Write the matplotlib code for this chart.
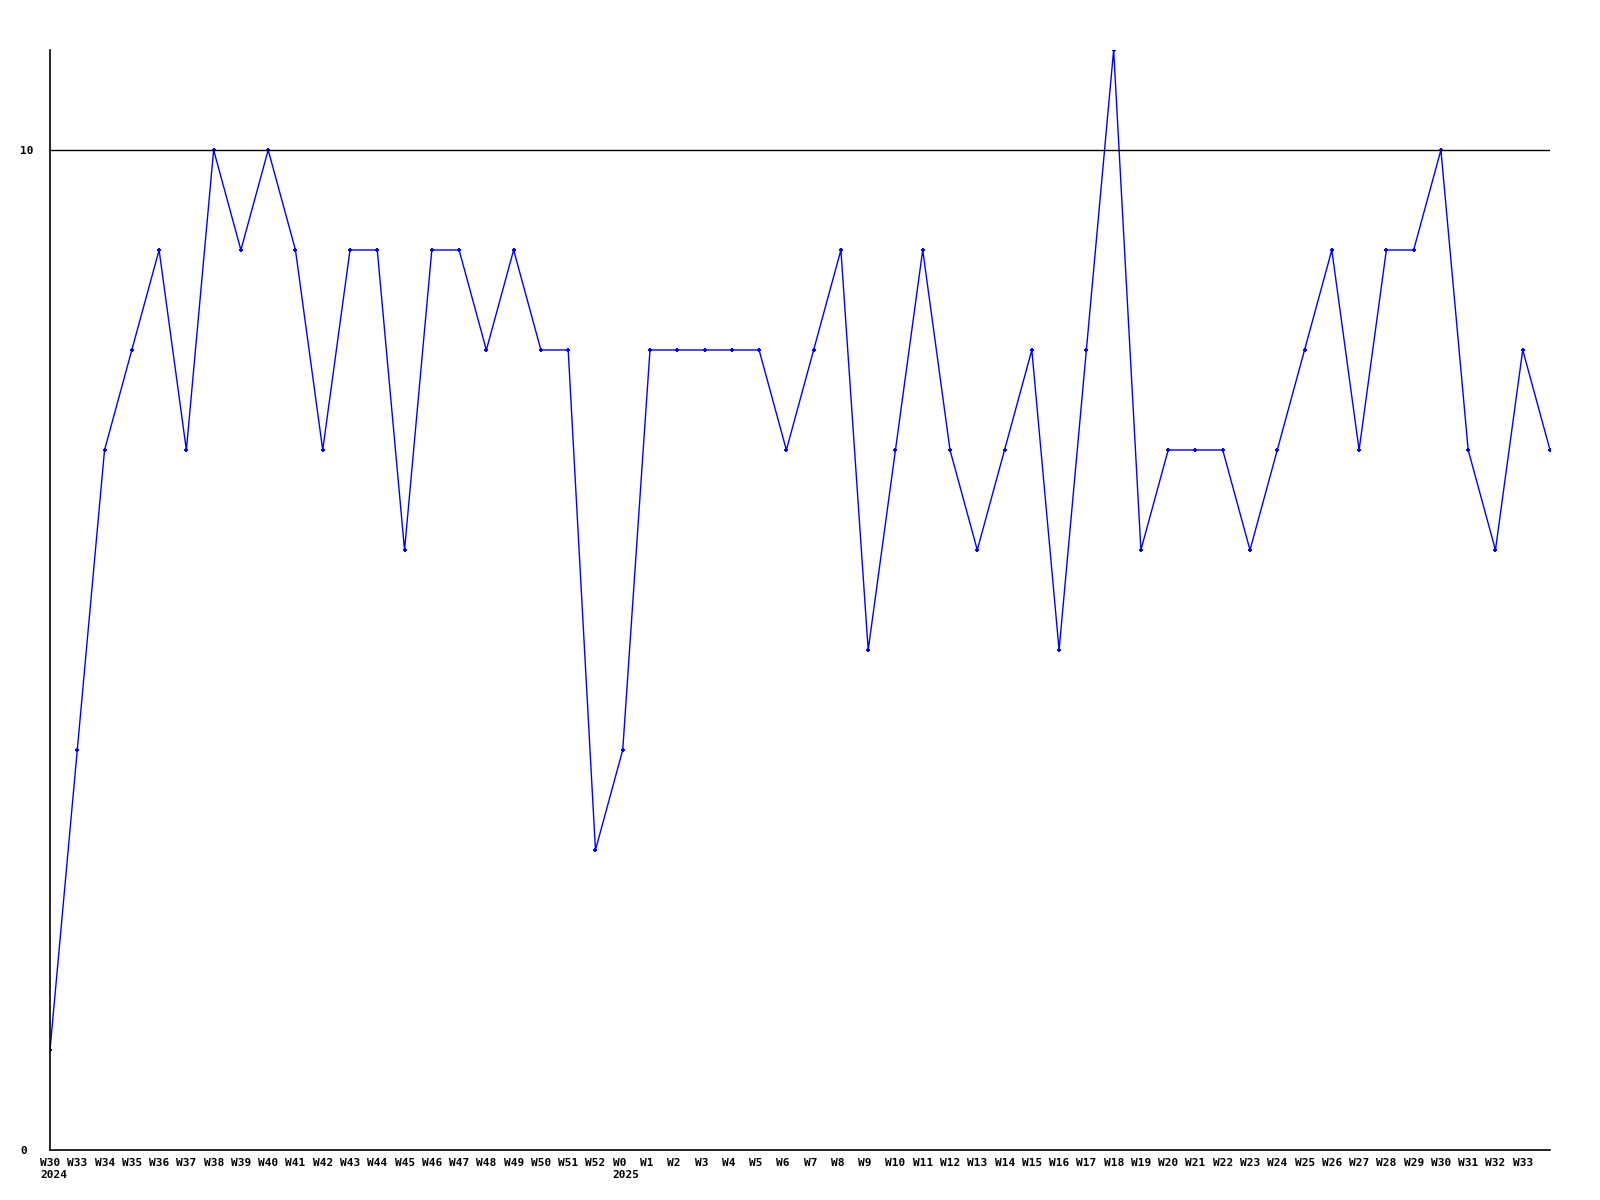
import matplotlib.pyplot as plt
import matplotlib.transforms as mtransforms

# weekly counts, W30 2024 .. W33 2025 plus one trailing (unlabelled) week
week_labels = (['W30\n2024'] + ['W%d' % w for w in range(33, 53)]
               + ['W0\n2025'] + ['W%d' % w for w in range(1, 34)])
values = [1, 4, 7, 8, 9, 7, 10, 9, 10, 9, 7, 9, 9, 6, 9, 9, 8, 9, 8, 8,
          3, 4, 8, 8, 8, 8, 8, 7, 8, 9, 5, 7, 9, 7, 6, 7, 8, 5, 8, 11,
          6, 7, 7, 7, 6, 7, 8, 9, 7, 9, 9, 10, 7, 6, 8, 7]
y_ticks = [0, 10]

plt.rcParams['font.family'] = ['DejaVu Sans Mono']

fig = plt.figure(figsize=(16, 12), dpi=100)
ax = fig.add_axes([50 / 1600, 50 / 1200, 1500 / 1600, 1100 / 1200])

x = list(range(len(values)))
ax.plot(x, values, '-', color='#0000ff', lw=1.0,
        marker='+', ms=3.5, mew=1.4, mec='#0000ff')
ax.axhline(10, color='black', lw=1)

ax.set_xlim(0, len(values) - 1)
ax.set_ylim(0, 11)

for s in ['top', 'right']:
    ax.spines[s].set_visible(False)
for s in ['left', 'bottom']:
    ax.spines[s].set_linewidth(1.2)

ax.set_xticks(x[:len(week_labels)])
ax.set_xticklabels(week_labels, fontsize=8, fontweight='bold',
                   ha='left', multialignment='left', linespacing=1.25)
ax.set_yticks(y_ticks)
ax.set_yticklabels([str(v) for v in y_ticks], fontsize=8, fontweight='bold', ha='left')
ax.tick_params(axis='x', length=0, pad=6)
ax.tick_params(axis='y', length=0, pad=0)

dx = mtransforms.ScaledTranslation(-10 / 100, 0, fig.dpi_scale_trans)
for lbl in ax.get_xticklabels():
    lbl.set_transform(lbl.get_transform() + dx)
dy = mtransforms.ScaledTranslation(-30 / 100, 0, fig.dpi_scale_trans)
for lbl in ax.get_yticklabels():
    lbl.set_transform(lbl.get_transform() + dy)

fig.savefig('out.png', dpi=100)
